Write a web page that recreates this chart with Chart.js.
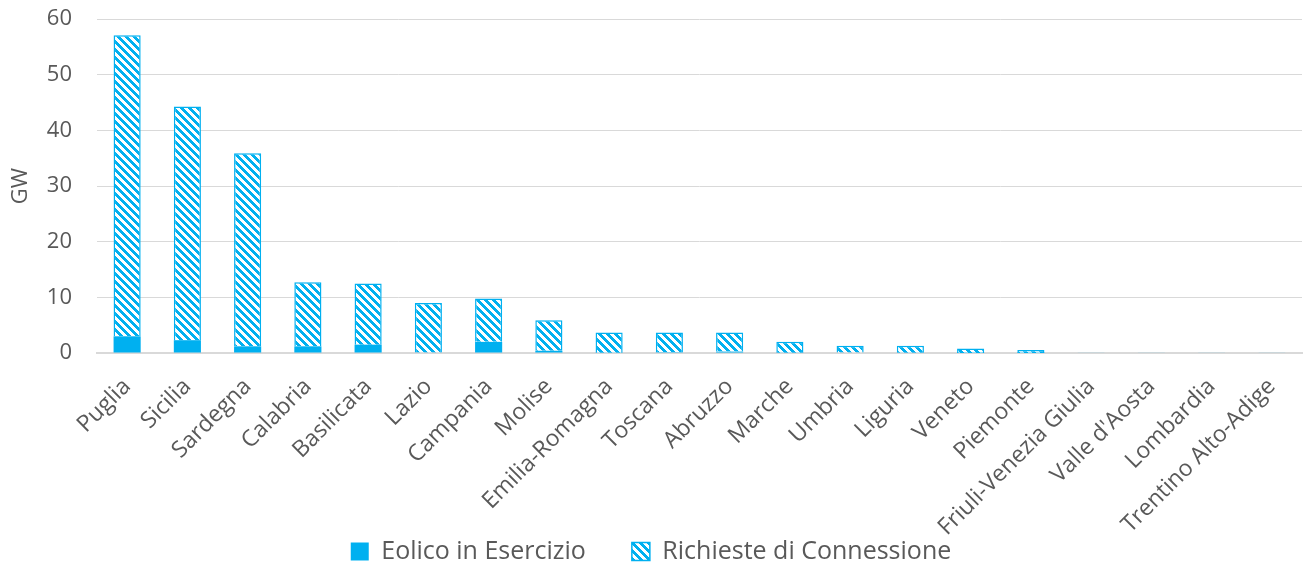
<!DOCTYPE html>
<html>
<head>
<meta charset="utf-8">
<script src="https://cdn.jsdelivr.net/npm/chart.js@4"></script>
<style>
  html, body { margin: 0; padding: 0; background: #ffffff; }
  #wrap { width: 1304px; height: 567px; }
</style>
</head>
<body>
<div id="wrap"><canvas id="c" width="1304" height="567"></canvas></div>
<script>
const categories = ["Puglia", "Sicilia", "Sardegna", "Calabria", "Basilicata", "Lazio", "Campania", "Molise", "Emilia-Romagna", "Toscana", "Abruzzo", "Marche", "Umbria", "Liguria", "Veneto", "Piemonte", "Friuli-Venezia Giulia", "Valle d'Aosta", "Lombardia", "Trentino Alto-Adige"];
const eolicoInEsercizio = [3.0, 2.3, 1.2, 1.2, 1.5, 0.1, 2.0, 0.4, 0.05, 0.15, 0.25, 0.05, 0.0, 0.06, 0.01, 0.02, 0.0, 0.0, 0.0, 0.0];
const richiesteDiConnessione = [54.1, 42.0, 34.7, 11.5, 11.0, 8.9, 7.8, 5.5, 3.65, 3.55, 3.45, 1.95, 1.3, 1.24, 0.79, 0.53, 0.05, 0.05, 0.05, 0.05];
const yTicks = [0, 10, 20, 30, 40, 50, 60];
const seriesNames = ["Eolico in Esercizio", "Richieste di Connessione"];

const BLUE = '#00B0F0';
const TEXT = '#595959';
const FONT = "'Open Sans', sans-serif";

function makePattern() {
  const p = document.createElement('canvas');
  p.width = 8; p.height = 8;
  const g = p.getContext('2d');
  g.fillStyle = '#ffffff';
  g.fillRect(0, 0, 8, 8);
  g.fillStyle = BLUE;
  for (let y = 0; y < 8; y++) {
    for (let x = 0; x < 8; x++) {
      if ((((x - y) % 8) + 8) % 8 < 4) g.fillRect(x, y, 1, 1);
    }
  }
  return document.getElementById('c').getContext('2d').createPattern(p, 'repeat');
}
const pattern = makePattern();

new Chart(document.getElementById('c'), {
  type: 'bar',
  data: {
    labels: categories,
    datasets: [
      {
        label: seriesNames[0],
        data: eolicoInEsercizio,
        backgroundColor: BLUE,
        borderWidth: 0,
        barPercentage: 0.45,
        categoryPercentage: 1.0
      },
      {
        label: seriesNames[1],
        data: richiesteDiConnessione,
        backgroundColor: pattern,
        borderColor: BLUE,
        borderWidth: 1.5,
        barPercentage: 0.45,
        categoryPercentage: 1.0
      }
    ]
  },
  options: {
    responsive: false,
    animation: false,
    devicePixelRatio: 1,
    layout: { padding: { top: 19, right: 2, left: 0, bottom: -7 } },
    plugins: {
      tooltip: { enabled: false },
      legend: {
        position: 'bottom',
        labels: {
          color: TEXT,
          font: { family: FONT, size: 25 },
          boxWidth: 18,
          boxHeight: 18,
          padding: 46
        }
      }
    },
    scales: {
      x: {
        stacked: true,
        grid: { display: false },
        border: { display: true, color: '#D9D9D9', width: 2 },
        ticks: {
          color: TEXT,
          font: { family: FONT, size: 23 },
          minRotation: 45,
          maxRotation: 45,
          autoSkip: false,
          padding: 12
        },
        afterFit: (s) => {
          s.height = 140;
          s._computeLabelArea = () => undefined;
        }
      },
      y: {
        stacked: true,
        min: 0,
        max: 60,
        afterBuildTicks: (s) => { s.ticks = yTicks.map(v => ({ value: v })); },
        grid: { color: '#D9D9D9', lineWidth: 1, drawTicks: true, tickLength: 25, tickColor: 'rgba(0,0,0,0)' },
        border: { display: false },
        ticks: {
          color: TEXT,
          font: { family: FONT, size: 22 },
          padding: 0
        },
        title: {
          display: true,
          text: 'GW',
          color: TEXT,
          font: { family: FONT, size: 22 },
          padding: { top: 8, bottom: 0 }
        },
        afterFit: (s) => { s.width = 97; }
      }
    }
  }
});
</script>
</body>
</html>
